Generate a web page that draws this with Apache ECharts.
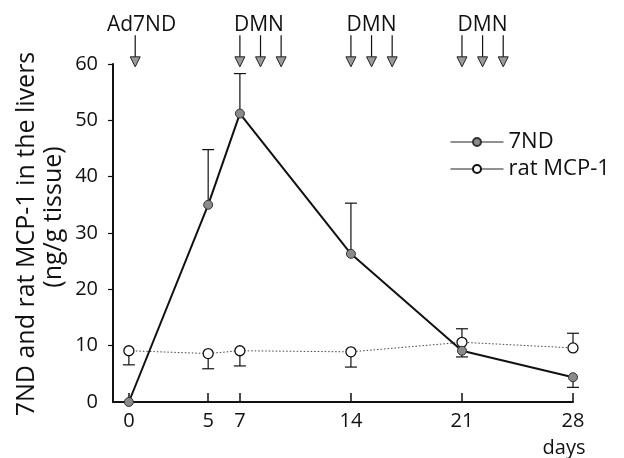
<!DOCTYPE html>
<html>
<head>
<meta charset="utf-8">
<script src="https://cdn.jsdelivr.net/npm/echarts@6/dist/echarts.min.js"></script>
<style>
html,body{margin:0;padding:0;background:#fff;}
#main{width:624px;height:458px;}
</style>
</head>
<body>
<div id="main"></div>
<script>
// days after Ad7ND injection
var days = [0, 5, 7, 14, 21, 28];
var nd7 = [0, 35, 51.2, 26.3, 9.1, 4.4];
var nd7Err = [0, 9.8, 7.1, 9.0, -1.1, -1.8];
var mcp = [9.1, 8.6, 9.1, 8.9, 10.6, 9.6];
var mcpErr = [-2.5, -2.7, -2.7, -2.7, 2.4, 2.6];
var yTicks = [0, 10, 20, 30, 40, 50, 60];
// treatment arrows above the plot
var adDays = [0.4];
var dmnDays = [7, 8.3, 9.6, 14, 15.3, 16.6, 21, 22.3, 23.6];
var notes = [[0.8, 'Ad7ND'], [8.2, 'DMN'], [15.3, 'DMN'], [22.3, 'DMN']];

var font = 'Open Sans';

function pairs(xs, ys) {
	var out = [];
	for (var i = 0; i < xs.length; i++) {
		out.push([xs[i], ys[i]]);
	}
	return out;
}

function errData(xs, ys, es) {
	var out = [];
	for (var i = 0; i < xs.length; i++) {
		if (es[i] !== 0) out.push([xs[i], ys[i], ys[i] + es[i]]);
	}
	return out;
}

function renderErr(params, api) {
	var p0 = api.coord([api.value(0), api.value(1)]);
	var p1 = api.coord([api.value(0), api.value(2)]);
	var w = 6;
	return {
		type: 'group',
		children: [{
			type: 'line',
			shape: {x1: p0[0], y1: p0[1], x2: p1[0], y2: p1[1]},
			style: {stroke: '#111', lineWidth: 1.2}
		}, {
			type: 'line',
			shape: {x1: p1[0] - w, y1: p1[1], x2: p1[0] + w, y2: p1[1]},
			style: {stroke: '#111', lineWidth: 1.2}
		}]
	};
}

function renderArrow(params, api) {
	var top = api.coord([api.value(0), 65.1]);
	var tip = api.coord([api.value(0), 59.5]);
	var x = tip[0];
	return {
		type: 'group',
		children: [{
			type: 'line',
			shape: {x1: x, y1: top[1], x2: x, y2: tip[1] - 8},
			style: {stroke: '#111', lineWidth: 1.2}
		}, {
			type: 'polygon',
			shape: {points: [[x - 5, tip[1] - 10], [x + 5, tip[1] - 10], [x, tip[1]]]},
			style: {fill: '#9a9a9a', stroke: '#222', lineWidth: 1}
		}]
	};
}

function renderNote(params, api) {
	var p = api.coord([api.value(0), 67.0]);
	return {
		type: 'text',
		x: p[0],
		y: p[1],
		style: {
			text: notes[params.dataIndex][1],
			fontFamily: font,
			fontSize: 21,
			fill: '#111',
			textAlign: 'center',
			textVerticalAlign: 'middle'
		}
	};
}

var myChart = echarts.init(document.getElementById('main'));
var arrowData = [];
for (var i = 0; i < adDays.length; i++) arrowData.push([adDays[i]]);
for (var j = 0; j < dmnDays.length; j++) arrowData.push([dmnDays[j]]);
var noteData = [];
for (var k = 0; k < notes.length; k++) noteData.push([notes[k][0]]);

var option = {
	animation: false,
	backgroundColor: '#fff',
	grid: {left: 113, right: 51, top: 64, bottom: 56},
	legend: {
		orient: 'vertical',
		left: 445,
		top: 126,
		itemWidth: 53,
		itemHeight: 10,
		itemGap: 5,
		data: ['7ND', 'rat MCP-1'],
		lineStyle: {width: 1, type: 'solid', color: '#222'},
		textStyle: {fontFamily: font, fontSize: 22, color: '#111', lineHeight: 21}
	},
	// two line axis title, second line sits a bit higher than the first
	graphic: [{
		type: 'text',
		x: 27,
		y: 234,
		rotation: Math.PI / 2,
		style: {
			text: '7ND and rat MCP-1 in the livers',
			fontFamily: font,
			fontSize: 25,
			fill: '#111',
			textAlign: 'center',
			textVerticalAlign: 'middle'
		}
	}, {
		type: 'text',
		x: 54,
		y: 217,
		rotation: Math.PI / 2,
		style: {
			text: '(ng/g tissue)',
			fontFamily: font,
			fontSize: 25,
			fill: '#111',
			textAlign: 'center',
			textVerticalAlign: 'middle'
		}
	}],
	xAxis: {
		type: 'value',
		min: -1,
		max: 28,
		name: 'days',
		nameLocation: 'end',
		nameGap: -9,
		nameTextStyle: {
			fontFamily: font, fontSize: 20, color: '#111',
			align: 'center', verticalAlign: 'top', padding: [36, 0, 0, 0]
		},
		splitLine: {show: false},
		axisLine: {onZero: false, lineStyle: {color: '#111', width: 2}},
		axisTick: {inside: true, length: 9, customValues: days, lineStyle: {color: '#111', width: 1.5}},
		axisLabel: {customValues: days, margin: 9, fontFamily: font, fontSize: 20, color: '#111'}
	},
	yAxis: {
		type: 'value',
		min: 0,
		max: 60,
		interval: 10,
		splitLine: {show: false},
		axisLine: {show: true, onZero: false, lineStyle: {color: '#111', width: 2}},
		axisTick: {show: true, length: 5, customValues: yTicks.slice(1), lineStyle: {color: '#111', width: 1.2}},
		axisLabel: {margin: 15, fontFamily: font, fontSize: 20, color: '#111'}
	},
	series: [{
		type: 'custom',
		name: 'arrows',
		clip: false,
		silent: true,
		renderItem: renderArrow,
		data: arrowData,
		z: 1
	}, {
		type: 'custom',
		name: 'notes',
		clip: false,
		silent: true,
		renderItem: renderNote,
		data: noteData,
		z: 1
	}, {
		type: 'custom',
		name: 'err7ND',
		clip: false,
		renderItem: renderErr,
		data: errData(days, nd7, nd7Err),
		z: 1
	}, {
		type: 'custom',
		name: 'errMCP',
		clip: false,
		renderItem: renderErr,
		data: errData(days, mcp, mcpErr),
		z: 1
	}, {
		type: 'line',
		name: 'rat MCP-1',
		data: pairs(days, mcp),
		symbol: 'circle',
		symbolSize: 10,
		lineStyle: {color: '#444', width: 1, type: [1.5, 2]},
		itemStyle: {color: '#fff', borderColor: '#111', borderWidth: 1.3},
		z: 3
	}, {
		type: 'line',
		name: '7ND',
		data: pairs(days, nd7),
		symbol: 'circle',
		symbolSize: 9,
		lineStyle: {color: '#111', width: 2},
		itemStyle: {color: '#8a8a8a', borderColor: '#333', borderWidth: 1},
		z: 4
	}]
};
myChart.setOption(option);
</script>
</body>
</html>
